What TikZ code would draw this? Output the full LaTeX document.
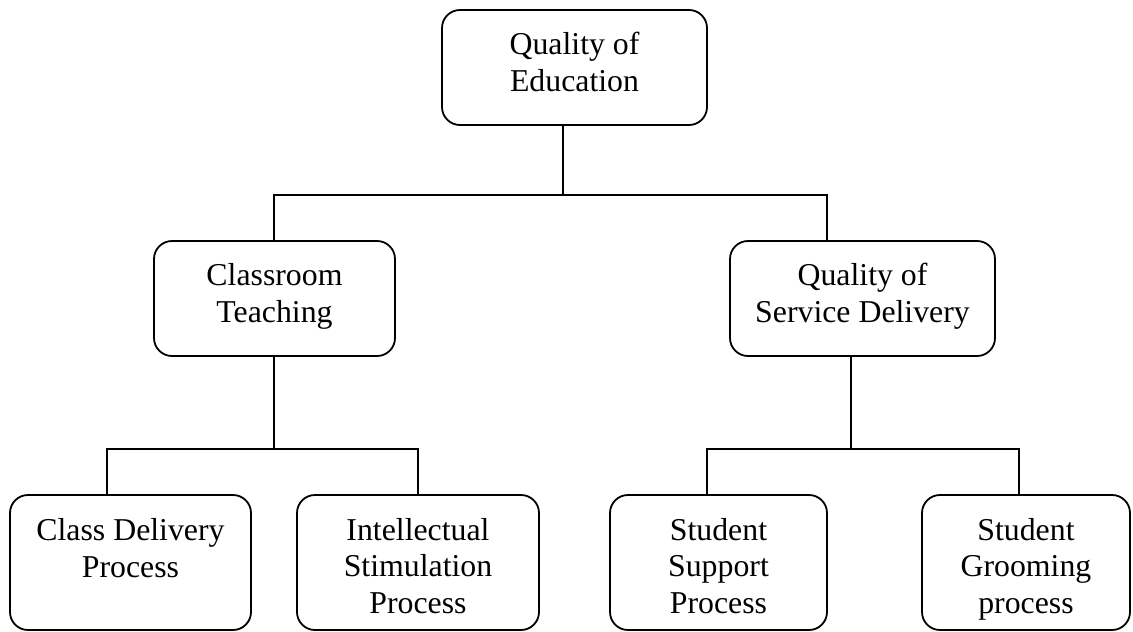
\documentclass[tikz,border=0pt]{standalone}
\usepackage{fontspec}
\setmainfont{Liberation Serif}
\begin{document}
\begin{tikzpicture}[x=1pt,y=-1pt,
  box/.style={draw, line width=1.8pt, rounded corners=18pt, inner sep=0pt},
  conn/.style={line width=1.5pt},
  txt/.style={align=center, font=\fontsize{31.8}{36.5}\selectfont, inner sep=0pt, anchor=base}]
\useasboundingbox (0,0) rectangle (1133,632);
% boxes
\node[box, minimum width=265pt, minimum height=115pt] (top) at (574.5,67.5) {};
\node[box, minimum width=241pt, minimum height=115pt] (left) at (274.5,298.5) {};
\node[box, minimum width=265pt, minimum height=115pt] (right) at (862.5,298.5) {};
\node[box, minimum width=241pt, minimum height=135pt] (b1) at (130.5,562.5) {};
\node[box, minimum width=242pt, minimum height=135pt] (b2) at (418,562.5) {};
\node[box, minimum width=217pt, minimum height=135pt] (b3) at (718.5,562.5) {};
\node[box, minimum width=208pt, minimum height=135pt] (b4) at (1026,562.5) {};
% texts (anchored at the baseline of the last line)
\node[txt] (topT) at (574.5,91) {Quality of\\Education};
\node[txt] (leftT) at (274.5,322) {Classroom\\Teaching};
\node[txt] (rightT) at (862.5,322) {Quality of\\Service Delivery};
\node[txt] (b1T) at (130.5,577) {Class Delivery\\Process};
\node[txt] (b2T) at (418,613) {Intellectual\\Stimulation\\Process};
\node[txt] (b3T) at (718.5,613) {Student\\Support\\Process};
\node[txt] (b4T) at (1026,613) {Student\\Grooming\\process};
% connector coordinates
\coordinate (busT) at (563,195);
\coordinate (busTL) at (274,195);
\coordinate (busTR) at (827,195);
\coordinate (busL) at (274,449);
\coordinate (busL1) at (107,449);
\coordinate (busL2) at (418,449);
\coordinate (busR) at (851,449);
\coordinate (busR1) at (707,449);
\coordinate (busR2) at (1019,449);
% connectors
\draw[conn] (top.south -| busT) -- (busT);
\draw[conn] (left.north -| busTL) -- (busTL) -- (busTR) -- (right.north -| busTR);
\draw[conn] (left.south -| busL) -- (busL);
\draw[conn] (b1.north -| busL1) -- (busL1) -- (busL2) -- (b2.north);
\draw[conn] (right.south -| busR) -- (busR);
\draw[conn] (b3.north -| busR1) -- (busR1) -- (busR2) -- (b4.north -| busR2);
\end{tikzpicture}
\end{document}
